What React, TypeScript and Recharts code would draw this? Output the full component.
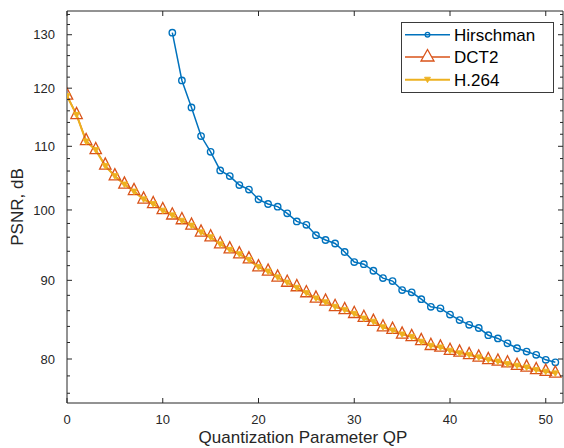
import React from 'react';
import { LineChart, Line, XAxis, YAxis, ReferenceLine, Legend } from 'recharts';

const qp = [
  0, 1, 2, 3, 4, 5, 6, 7, 8, 9, 10, 11, 12, 13, 14, 15, 16, 17, 18, 19, 20, 21, 22, 23, 24, 25,
  26, 27, 28, 29, 30, 31, 32, 33, 34, 35, 36, 37, 38, 39, 40, 41, 42, 43, 44, 45, 46, 47, 48, 49, 50, 51,
];

const hirschman = [
  null, null, null, null, null, null, null, null, null, null, null,
  130.4, 121.4, 116.6, 111.7, 109.1, 106.1, 105.2, 103.8, 103.1, 101.6,
  100.9, 100.5, 99.5, 98.3, 97.8, 96.3, 95.6, 95.1, 93.9, 92.5,
  92.2, 91.3, 90.3, 89.9, 88.7, 88.4, 87.5, 86.5, 86.3, 85.5,
  84.8, 84.2, 83.8, 82.9, 82.5, 81.9, 81.3, 80.9, 80.5, 79.9, 79.6,
];

const dct2 = [
  118.7, 115.3, 110.9, 109.4, 106.9, 105.2, 103.9, 102.9, 101.6, 100.9, 100.0,
  99.2, 98.5, 97.7, 96.7, 96.0, 95.0, 94.3, 93.6, 92.9, 91.8, 91.2, 90.4, 89.7, 89.1, 88.3,
  87.6, 87.2, 86.5, 86.1, 85.6, 85.1, 84.6, 83.9, 83.6, 83.0, 82.7, 82.2, 81.6,
  81.4, 81.0, 80.8, 80.5, 80.2, 79.9, 79.7, 79.5, 79.2, 79.0, 78.7, 78.5, 78.3,
];

const h264 = [
  118.6, 115.3, 110.8, 109.4, 106.8, 105.2, 103.9, 102.8, 101.6, 100.9, 99.9,
  99.2, 98.4, 97.7, 96.7, 96.0, 95.0, 94.2, 93.6, 92.8, 91.8, 91.2, 90.4, 89.7, 89.0, 88.3,
  87.6, 87.1, 86.5, 86.1, 85.6, 85.0, 84.6, 83.9, 83.5, 83.0, 82.7, 82.1, 81.6,
  81.4, 81.0, 80.7, 80.5, 80.2, 79.9, 79.7, 79.4, 79.2, 79.0, 78.7, 78.5, 78.3,
];

const xTicks = [0, 10, 20, 30, 40, 50];
const yTicks = [76, 78, 80, 82, 84, 86, 88, 90, 92, 94, 96, 98, 100, 102, 104, 106, 108, 110,
  112, 114, 116, 118, 120, 122, 124, 126, 128, 130, 132, 134];
const yMajor = [80, 90, 100, 110, 120, 130];

const data = qp.map((q, i) => ({ qp: q, hirschman: hirschman[i], dct2: dct2[i], h264: h264[i] }));

const BLUE = '#0072BD';
const ORANGE = '#D95319';
const YELLOW = '#EDB120';
const AXIS = '#262626';
const FONT = '"Liberation Sans", Arial, Helvetica, sans-serif';

// plot box in page pixels
const LEFT = 67;
const RIGHT = 563;
const TOP = 11;
const BOTTOM = 403;
const X_MAX = 51.8;
const Y_MIN = 74.9;
const Y_MAX = 134.7;

function CircleDot(props: any) {
  const { cx, cy, index } = props;
  if (cx == null || cy == null || props.value == null) return <g key={`h-${index}`} />;
  return <circle key={`h-${index}`} cx={cx} cy={cy} r={3.2} fill="none" stroke={BLUE} strokeWidth={1.4} />;
}

function UpTriangle(props: any) {
  const { cx, cy, index } = props;
  if (cx == null || cy == null) return <g key={`d-${index}`} />;
  const pts = `${cx},${cy - 7.5} ${cx - 5.7},${cy + 3.7} ${cx + 5.7},${cy + 3.7}`;
  return <polygon key={`d-${index}`} points={pts} fill="none" stroke={ORANGE} strokeWidth={1.3} />;
}

function DownTriangle(props: any) {
  const { cx, cy, index } = props;
  if (cx == null || cy == null) return <g key={`y-${index}`} />;
  const pts = `${cx - 3.3},${cy - 2.5} ${cx + 3.3},${cy - 2.5} ${cx},${cy + 3.2}`;
  return <polygon key={`y-${index}`} points={pts} fill={YELLOW} stroke={YELLOW} strokeWidth={0.8} />;
}

function XTick(props: any) {
  const { x, payload } = props;
  return (
    <g>
      <line x1={x} y1={BOTTOM} x2={x} y2={BOTTOM - 5} stroke={AXIS} strokeWidth={1} />
      <line x1={x} y1={TOP} x2={x} y2={TOP + 5} stroke={AXIS} strokeWidth={1} />
      <text x={x} y={424} textAnchor="middle" fill={AXIS} fontSize={13} fontFamily={FONT}>
        {payload.value}
      </text>
    </g>
  );
}

function YTick(props: any) {
  const { y, payload } = props;
  const major = yMajor.includes(payload.value);
  const len = major ? 5 : 3;
  return (
    <g>
      <line x1={LEFT} y1={y} x2={LEFT + len} y2={y} stroke={AXIS} strokeWidth={1} />
      <line x1={RIGHT} y1={y} x2={RIGHT - len} y2={y} stroke={AXIS} strokeWidth={1} />
      {major && (
        <text x={55} y={y + 4.6} textAnchor="end" fill={AXIS} fontSize={13} fontFamily={FONT}>
          {payload.value}
        </text>
      )}
    </g>
  );
}

function renderLegend() {
  const rows = [
    { name: 'Hirschman', color: BLUE, y: 12.7 },
    { name: 'DCT2', color: ORANGE, y: 35 },
    { name: 'H.264', color: YELLOW, y: 57.7 },
  ];
  return (
    <svg width={153} height={71} style={{ display: 'block' }}>
      <rect x={0.5} y={0.5} width={152} height={70} fill="#fff" stroke="#3a3a3a" strokeWidth={1} />
      {rows.map((r, i) => (
        <g key={r.name}>
          <line x1={4} y1={r.y} x2={49} y2={r.y} stroke={r.color} strokeWidth={i === 2 ? 2 : 1.5} />
          {i === 0 && <circle cx={26.5} cy={r.y} r={2.3} fill="none" stroke={BLUE} strokeWidth={1.3} />}
          {i === 1 && (
            <polygon
              points={`26.5,${r.y - 7.5} 20,${r.y + 4} 33,${r.y + 4}`}
              fill="#fff"
              stroke={ORANGE}
              strokeWidth={1.3}
            />
          )}
          {i === 2 && (
            <polygon
              points={`23.5,${r.y - 2.5} 29.5,${r.y - 2.5} 26.5,${r.y + 3}`}
              fill={YELLOW}
              stroke={YELLOW}
              strokeWidth={0.8}
            />
          )}
          <text x={53} y={r.y + 6} fontSize={17} fontFamily={FONT} fill="#000">
            {r.name}
          </text>
        </g>
      ))}
    </svg>
  );
}

export default function App() {
  return (
    <div style={{ position: 'absolute', left: 0, top: 0, width: 564, height: 448, background: '#fff' }}>
      <LineChart width={564} height={448} data={data} margin={{ top: TOP, right: 564 - RIGHT, left: 0, bottom: 0 }}>
        <XAxis
          dataKey="qp"
          type="number"
          domain={[0, X_MAX]}
          ticks={xTicks}
          allowDataOverflow
          height={448 - BOTTOM}
          axisLine={{ stroke: AXIS, strokeWidth: 1 }}
          tickLine={false}
          tick={XTick}
          interval={0}
          label={{
            content: () => (
              <text x={303} y={443} textAnchor="middle" fill={AXIS} fontSize={17} fontFamily={FONT}>
                Quantization Parameter QP
              </text>
            ),
          }}
        />
        <YAxis
          type="number"
          scale="log"
          domain={[Y_MIN, Y_MAX]}
          ticks={yTicks}
          allowDataOverflow
          width={LEFT}
          axisLine={{ stroke: AXIS, strokeWidth: 1 }}
          tickLine={false}
          tick={YTick}
          interval={0}
          label={{
            content: () => (
              <text
                x={23}
                y={207}
                transform="rotate(-90 23 207)"
                textAnchor="middle"
                fill={AXIS}
                fontSize={17}
                fontFamily={FONT}
              >
                PSNR, dB
              </text>
            ),
          }}
        />
        <ReferenceLine y={Y_MAX} stroke={AXIS} strokeWidth={1} />
        <ReferenceLine x={X_MAX} stroke={AXIS} strokeWidth={1} />
        <Line
          dataKey="hirschman"
          name="Hirschman"
          stroke={BLUE}
          strokeWidth={1.5}
          dot={CircleDot}
          activeDot={false}
          connectNulls={false}
          isAnimationActive={false}
        />
        <Line
          dataKey="dct2"
          name="DCT2"
          stroke={ORANGE}
          strokeWidth={1.5}
          dot={UpTriangle}
          activeDot={false}
          isAnimationActive={false}
        />
        <Line
          dataKey="h264"
          name="H.264"
          stroke={YELLOW}
          strokeWidth={2}
          dot={DownTriangle}
          activeDot={false}
          isAnimationActive={false}
        />
        <Legend
          layout="vertical"
          align="center"
          verticalAlign="middle"
          content={renderLegend}
          wrapperStyle={{ position: 'absolute', left: 401, top: 22, width: 153, height: 71 }}
        />
      </LineChart>
    </div>
  );
}
